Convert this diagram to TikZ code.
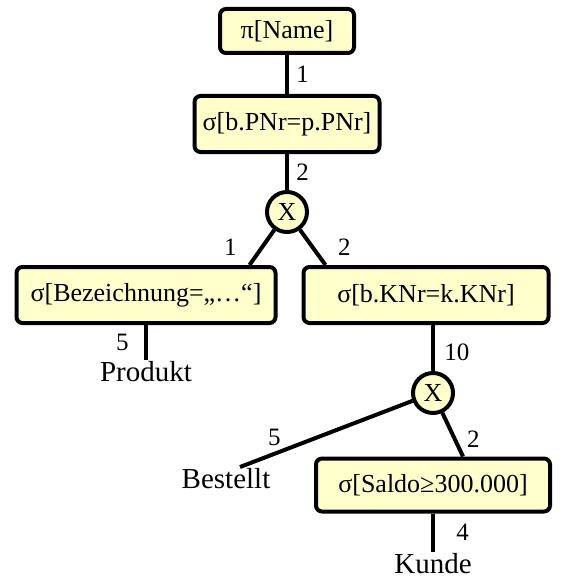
\documentclass[tikz,border=0pt]{standalone}
\usepackage{fontspec}
\setmainfont{Liberation Serif}
\definecolor{opgelb}{RGB}{255,255,204}
\begin{document}
\begin{tikzpicture}[x=1pt, y=-1pt]
\tikzset{op/.style={rectangle, rounded corners=6pt, draw=black, line width=4pt, fill=opgelb, minimum height=56pt, font=\fontsize{26}{30}\selectfont},
kreuz/.style={circle, draw=black, line width=4pt, fill=opgelb, minimum size=40pt, inner sep=0pt, font=\fontsize{26}{30}\selectfont},
rel/.style={inner sep=1pt, anchor=north, font=\fontsize{29}{34}\selectfont},
kante/.style={line width=4pt},
zahl/.style={font=\fontsize{25}{30}\selectfont}};

\useasboundingbox (0,0) rectangle (566,583);

\node[op, minimum width=134pt, minimum height=44pt] (pi) at (287,31) {π[Name]};
\node[op, minimum width=185pt] (s1) at (287,124) {σ[b.PNr=p.PNr]};
\node[kreuz] (x1) at (287,212) {X};
\node[op, minimum width=259pt] (bez) at (146,295) {σ[Bezeichnung=„…“]};
\node[op, minimum width=245pt] (knr) at (426,295) {σ[b.KNr=k.KNr]};
\node[rel] (prod) at (146,360) {Produkt};
\node[kreuz] (x2) at (433,393) {X};
\node[rel] (best) at (226,467) {Bestellt};
\node[op, minimum width=234pt, minimum height=53pt] (saldo) at (433,485) {σ[Saldo≥300.000]};
\node[rel] (kunde) at (433,552) {Kunde};

\draw[kante] (pi) -- node[zahl, right, xshift=4pt] {1} (s1);
\draw[kante] (s1) -- node[zahl, right, xshift=4pt] {2} (x1);
\draw[kante] (x1) -- node[zahl, left, xshift=-20pt] {1} ([xshift=-28pt]bez.north east);
\draw[kante] (x1) -- node[zahl, right, xshift=20pt] {2} ([xshift=24pt]knr.north west);
\draw[kante] (bez.south) -- node[zahl, left, xshift=-12pt] {5} (prod);
\draw[kante] (knr.south -| x2) -- node[zahl, right, xshift=6pt, yshift=-4pt] {10} (x2);
\draw[kante] (x2) -- node[zahl, pos=0.8, above, yshift=3pt] {5} ([xshift=14pt]best.north);
\draw[kante] (x2) -- node[zahl, right, xshift=9pt, yshift=-5pt] {2} ([xshift=30pt]saldo.north);
\draw[kante] (saldo) -- node[zahl, right, xshift=18pt] {4} (kunde);

\end{tikzpicture}
\end{document}
